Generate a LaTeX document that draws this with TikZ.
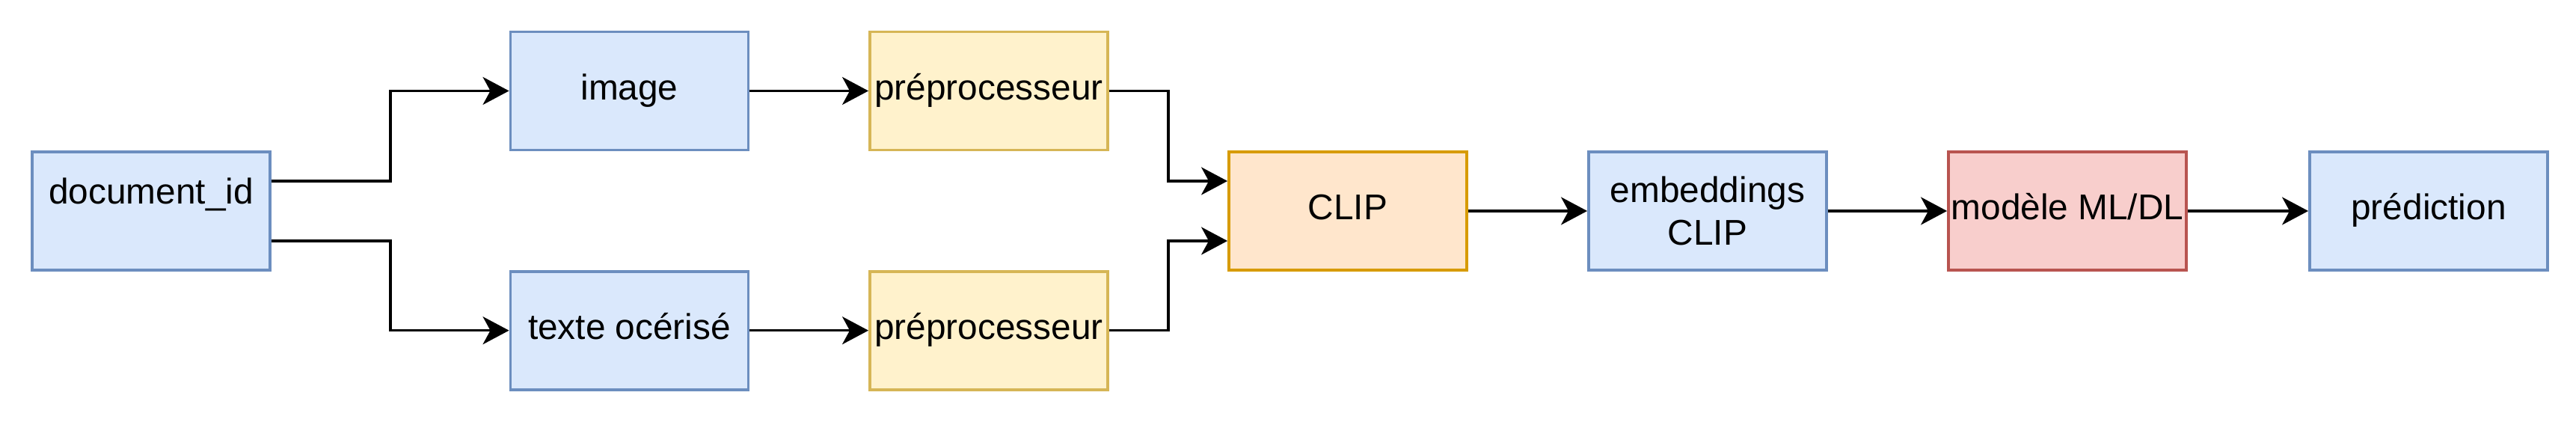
\documentclass[tikz,border=0pt]{standalone}
\usepackage{fontspec}
\setmainfont{Liberation Sans}
\usepackage{tikz}
\usetikzlibrary{arrows.meta,positioning,calc}
\definecolor{bfill}{HTML}{DAE8FC}
\definecolor{bdraw}{HTML}{6C8EBF}
\definecolor{yfill}{HTML}{FFF2CC}
\definecolor{ydraw}{HTML}{D6B656}
\definecolor{ofill}{HTML}{FFE6CC}
\definecolor{odraw}{HTML}{D79B00}
\definecolor{rfill}{HTML}{F8CECC}
\definecolor{rdraw}{HTML}{B85450}
\tikzset{
  >={Stealth[length=3.5mm,width=3.7mm,inset=1mm]},
  % blokken
  blok/.style={rectangle,line width=1.1pt,inner sep=0pt,align=center,
               minimum width=3.18cm,minimum height=1.58cm,
               font=\fontsize{13.6}{16.3}\selectfont},
  een/.style={text height=0.9em,text depth=0.24em},
  bb/.style={blok,fill=bfill,draw=bdraw},
  yb/.style={blok,fill=yfill,draw=ydraw},
  ob/.style={blok,fill=ofill,draw=odraw},
  rb/.style={blok,fill=rfill,draw=rdraw},
  % pijlen
  fe/.style={->,draw=black,line width=1pt},
}
\begin{document}
\begin{tikzpicture}
\useasboundingbox (0,0) rectangle (34.44,5.64);
  \node[bb,een,text depth=1.44em] (doc) at (2.02,2.82) {document\_id};
  \node[bb,een] (img) at (8.415,4.425) {image};
  \node[bb,een] (ocr) at (8.415,1.223) {texte océrisé};
  \node[yb,een] (pimg) at (13.22,4.425) {préprocesseur};
  \node[yb,een] (pocr) at (13.22,1.223) {préprocesseur};
  \node[ob,een] (clip) at (18.02,2.82) {CLIP};
  \node[bb] (emb) at (22.83,2.82) {embeddings\\CLIP};
  \node[rb,een] (model) at (27.64,2.82) {modèle ML/DL};
  \node[bb,een] (pred) at (32.47,2.82) {prédiction};
  \draw[fe] ([yshift=4mm]doc.east) -- ++(1.59,0) |- (img.west);
  \draw[fe] ([yshift=-4mm]doc.east) -- ++(1.59,0) |- (ocr.west);
  \draw[fe] (img) -- (pimg);
  \draw[fe] (ocr) -- (pocr);
  \draw[fe] (pimg.east) -- ++(0.79,0) |- ([yshift=4mm]clip.west);
  \draw[fe] (pocr.east) -- ++(0.79,0) |- ([yshift=-4mm]clip.west);
  \draw[fe] (clip) -- (emb);
  \draw[fe] (emb) -- (model);
  \draw[fe] (model) -- (pred);
\end{tikzpicture}
\end{document}
